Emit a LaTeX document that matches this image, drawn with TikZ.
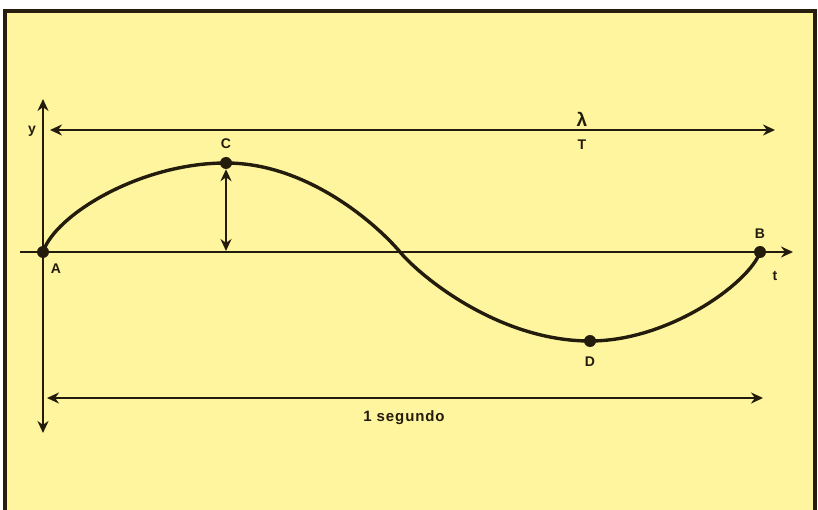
\documentclass[tikz,border=0pt]{standalone}
\usepackage{fontspec}
\setmainfont{Liberation Sans}
\usetikzlibrary{arrows.meta}
\definecolor{bgyellow}{RGB}{255,245,158}
\definecolor{ink}{RGB}{35,28,12}
\definecolor{frame}{RGB}{40,30,15}
\tikzset{
  tip/.tip={Stealth[length=12pt,width=11pt]},
  axis/.style={draw=ink, line width=2.8pt},
  dim/.style={draw=ink, line width=2.8pt, tip-tip},
  wave/.style={draw=ink, line width=3.4pt},
  pt/.style={circle, fill=ink, inner sep=0pt, minimum size=12pt},
  lbl/.style={font=\bfseries\fontsize{14}{14}\selectfont, text=ink, inner sep=0pt},
}
\begin{document}
\begin{tikzpicture}[x=1pt,y=-1pt]
\useasboundingbox (0,0) rectangle (818,510);
\fill[white] (0,0) rectangle (818,510);
\fill[bgyellow] (5,11) rectangle (815,510);
\draw[frame, line width=4pt] (5,510) -- (5,11) -- (815,11) -- (815,510);

% axes
\coordinate (ytop) at (43,99);
\coordinate (ybot) at (43,433);
\coordinate (tl) at (20,252);
\coordinate (tr) at (793,252);
\draw[axis, tip-tip] (ybot) -- (ytop);
\draw[axis, -tip] (tl) -- (tr);

% wave
\coordinate (pA) at (43,252);
\coordinate (pC) at (226,163);
\coordinate (pX) at (400,252);
\coordinate (pD) at (590,341);
\coordinate (pB) at (760,252);
\draw[wave] (pA) .. controls (55,215) and (140,163) .. (pC)
                 .. controls (310,163) and (380,228) .. (pX)
                 .. controls (422,278) and (500,341) .. (pD)
                 .. controls (670,341) and (750,282) .. (pB);

% points
\node[pt] (A) at (pA) {};
\node[pt] (C) at (pC) {};
\node[pt] (D) at (pD) {};
\node[pt] (B) at (pB) {};
\coordinate (Cfoot) at (226,251);

\node[lbl] (lA) at (56,269) {A};
\node[lbl] (lC) at (226,144) {C};
\node[lbl] (lD) at (590,362) {D};
\node[lbl] (lB) at (760,234) {B};
\node[lbl] (lt) at (775,276) {t};
\node[lbl] (ly) at (32,131) {y};

% amplitude arrow
\draw[dim] (C.south) -- (Cfoot);

% wavelength arrow
\coordinate (w1) at (50,130);
\coordinate (w2) at (775,130);
\draw[dim] (w1) -- (w2);
\node[lbl, font=\bfseries\fontsize{19}{19}\selectfont] (lam) at (582,119) {λ};
\node[lbl] (lT) at (582,145) {T};

% 1 segundo arrow
\coordinate (s1) at (47,398);
\coordinate (s2) at (763,398);
\draw[dim] (s1) -- (s2);
\node[lbl, font=\bfseries\fontsize{15}{15}\selectfont\addfontfeature{LetterSpace=6}] (seg) at (404,418) {1 segundo};
\end{tikzpicture}
\end{document}
